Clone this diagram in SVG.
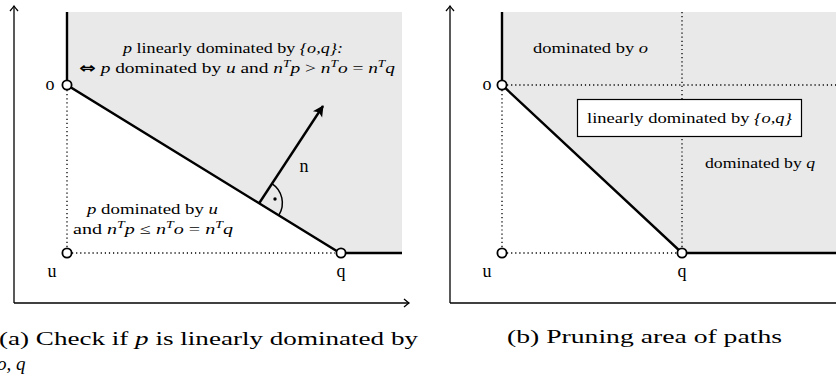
<svg xmlns="http://www.w3.org/2000/svg" width="836" height="381" viewBox="0 0 836 381">
<style>
text{font-family:"Liberation Serif","DejaVu Serif",serif;fill:#000}
.lbl{font-size:18px;text-anchor:middle}
.in{font-size:14.5px}
.cap{font-size:19px}
.m{font-style:italic}
.sup{font-size:10px;font-style:italic}
.sym{font-family:"DejaVu Sans",sans-serif;font-size:15px;font-weight:bold}
.axis{stroke:#000;stroke-width:1.3;fill:none}
.thick{stroke:#000;stroke-width:2.4;fill:none;stroke-linejoin:miter}
.dot{stroke:#000;stroke-width:1.3;stroke-dasharray:1.2 2.9;fill:none}
.area{fill:#e9e9e9;stroke:none}
.pt{fill:#fff;stroke:#000;stroke-width:1.8}
</style>
<defs>
<marker id="ax" markerUnits="userSpaceOnUse" markerWidth="12" markerHeight="12" viewBox="-8 -6 10 12" refX="0" refY="0" orient="auto">
<path d="M-5,-4 Q-1.5,-1 0,0 Q-1.5,1 -5,4" fill="none" stroke="#000" stroke-width="1.3"/>
</marker>
<marker id="st" markerUnits="userSpaceOnUse" markerWidth="16" markerHeight="16" viewBox="-12 -8 14 16" refX="0" refY="0" orient="auto">
<path d="M1,0 L-10,-5.5 L-7.5,0 L-10,5.5 Z" fill="#000"/>
</marker>
</defs>

<!-- Panel (a) -->
<g id="panel-a">
<polygon class="area" points="67,12 402,12 402,253 340,253 67,85"/>
<g id="axes-a">
<line class="axis" x1="14" y1="303" x2="14" y2="6" marker-end="url(#ax)"/>
<line class="axis" x1="14" y1="303" x2="409" y2="303" marker-end="url(#ax)"/>
</g>
<g id="connectors-a">
<line class="dot" x1="67" y1="90" x2="67" y2="248"/>
<line class="dot" x1="72" y1="253" x2="335" y2="253"/>
<polyline class="thick" points="67,12 67,85 340,253 402,253"/>
<line x1="259.3" y1="203" x2="323" y2="106" stroke="#000" stroke-width="2.4" marker-end="url(#st)"/>
<path d="M271.9,183.6 A23,23 0 0 1 278.9,215" fill="none" stroke="#000" stroke-width="1.5"/>
<circle cx="275" cy="199" r="1.7" fill="#000"/>
</g>
<g id="node-a-o"><circle class="pt" cx="67" cy="85" r="4.6"/><text class="lbl" x="50" y="90">o</text></g>
<g id="node-a-u"><circle class="pt" cx="67" cy="253" r="4.6"/><text class="lbl" x="52" y="277">u</text></g>
<g id="node-a-q"><circle class="pt" cx="341" cy="253" r="4.6"/><text class="lbl" x="341" y="277">q</text></g>
<text class="lbl" x="304" y="172">n</text>
<text class="in" x="123" y="53" textLength="220" lengthAdjust="spacingAndGlyphs"><tspan class="m">p</tspan> linearly dominated by <tspan class="m">{o,q}:</tspan></text>
<text class="in" x="79" y="73" textLength="316" lengthAdjust="spacingAndGlyphs"><tspan class="sym">⇔</tspan> <tspan class="m">p</tspan> dominated by <tspan class="m">u</tspan> and <tspan class="m">n</tspan><tspan class="sup" dy="-6">T</tspan><tspan class="m" dy="6">p</tspan> &gt; <tspan class="m">n</tspan><tspan class="sup" dy="-6">T</tspan><tspan class="m" dy="6">o</tspan> = <tspan class="m">n</tspan><tspan class="sup" dy="-6">T</tspan><tspan class="m" dy="6">q</tspan></text>
<text class="in" x="87" y="214" textLength="131" lengthAdjust="spacingAndGlyphs"><tspan class="m">p</tspan> dominated by <tspan class="m">u</tspan></text>
<text class="in" x="73" y="234" textLength="160" lengthAdjust="spacingAndGlyphs">and <tspan class="m">n</tspan><tspan class="sup" dy="-6">T</tspan><tspan class="m" dy="6">p</tspan> ≤ <tspan class="m">n</tspan><tspan class="sup" dy="-6">T</tspan><tspan class="m" dy="6">o</tspan> = <tspan class="m">n</tspan><tspan class="sup" dy="-6">T</tspan><tspan class="m" dy="6">q</tspan></text>
<text class="cap" x="-1" y="345" textLength="419" lengthAdjust="spacingAndGlyphs">(a) Check if <tspan class="m">p</tspan> is linearly dominated by</text>
<text class="cap" x="-3" y="370"><tspan class="m">o, q</tspan></text>
</g>

<!-- Panel (b) -->
<g id="panel-b">
<polygon class="area" points="502,12 836,12 836,253 682,253 502,85"/>
<g id="axes-b">
<line class="axis" x1="450" y1="303" x2="450" y2="6" marker-end="url(#ax)"/>
<line class="axis" x1="450" y1="303" x2="840" y2="303"/>
</g>
<g id="connectors-b">
<line class="dot" x1="507" y1="85" x2="836" y2="85"/>
<line class="dot" x1="682" y1="12" x2="682" y2="248"/>
<line class="dot" x1="502" y1="90" x2="502" y2="248"/>
<line class="dot" x1="507" y1="253" x2="677" y2="253"/>
<polyline class="thick" points="502,12 502,85 682,253 836,253"/>
</g>
<g id="node-b-o"><circle class="pt" cx="502" cy="85" r="4.6"/><text class="lbl" x="487" y="90">o</text></g>
<g id="node-b-u"><circle class="pt" cx="502" cy="253" r="4.6"/><text class="lbl" x="487" y="277">u</text></g>
<g id="node-b-q"><circle class="pt" cx="682" cy="253" r="4.6"/><text class="lbl" x="682" y="277">q</text></g>
<text class="in" x="533" y="53" textLength="115" lengthAdjust="spacingAndGlyphs">dominated by <tspan class="m">o</tspan></text>
<text class="in" x="705" y="168" textLength="110" lengthAdjust="spacingAndGlyphs">dominated by <tspan class="m">q</tspan></text>
<g id="node-b-box">
<rect x="577.5" y="99.5" width="224" height="37" fill="#fff" stroke="#000" stroke-width="1.2"/>
<text class="in" x="587" y="123" textLength="205" lengthAdjust="spacingAndGlyphs">linearly dominated by <tspan class="m">{o,q}</tspan></text>
</g>
<text class="cap" x="507" y="343" textLength="275" lengthAdjust="spacingAndGlyphs">(b) Pruning area of paths</text>
</g>
</svg>
